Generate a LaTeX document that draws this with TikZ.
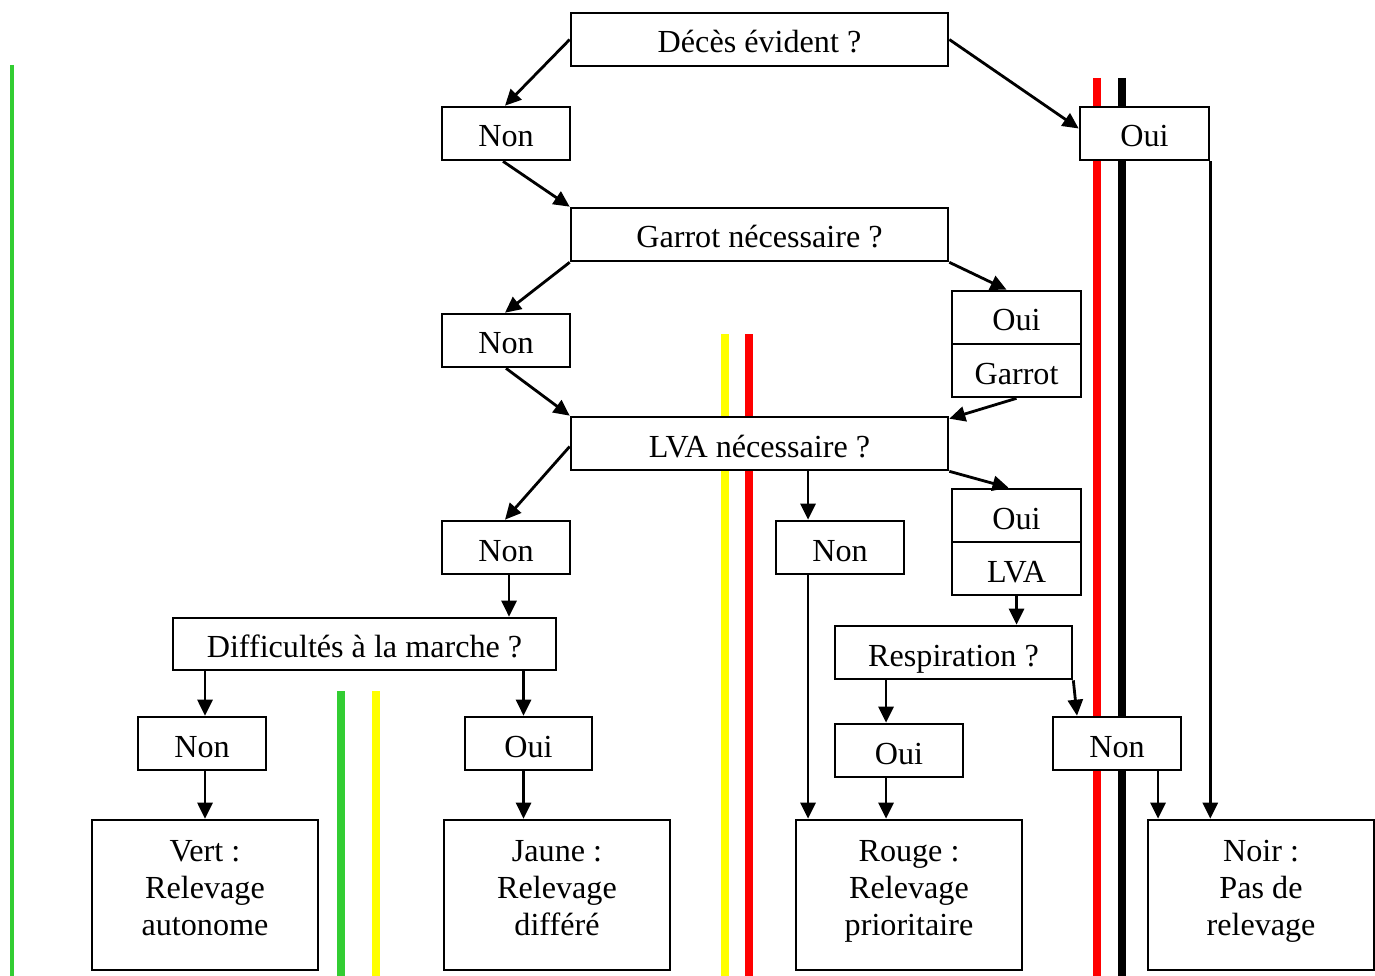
\documentclass[tikz,border=0pt]{standalone}
\usepackage{fontspec}
\setmainfont{Liberation Serif}
\usetikzlibrary{arrows.meta}
\newlength\pxu
\setlength\pxu{0.02cm}
\definecolor{lgreen}{RGB}{50,205,50}
\definecolor{lyellow}{RGB}{255,255,0}
\definecolor{lred}{RGB}{255,0,0}
\begin{document}
\begin{tikzpicture}[x=0.02cm,y=-0.02cm,
  box/.style={draw, line width=1.5pt, fill=white, inner sep=0pt,
    font=\fontsize{18.3}{21}\selectfont, align=center},
  one/.style={text height=28\pxu, text depth=1\pxu},
  sbox/.style={box, one, minimum width=128\pxu, minimum height=53\pxu},
  wbox/.style={box, one, minimum width=377\pxu, minimum height=53\pxu},
  fbox/.style={box, minimum width=226\pxu, minimum height=150\pxu},
  arr/.style={line width=1.6pt, -{Triangle[length=0.32cm,width=0.30cm]}},
  band/.style={line width=0.16cm}]
\useasboundingbox (0,0) rectangle (1375,976);
% colour bands (behind the boxes)
\draw[lgreen, line width=0.08cm] (12,65) -- (12,976);
\draw[band, lred] (1096.5,78) -- (1096.5,976);
\draw[band, black] (1121.5,78) -- (1121.5,976);
\draw[band, lyellow] (725,334) -- (725,976);
\draw[band, lred] (748.5,334) -- (748.5,976);
\draw[band, lgreen] (341,691) -- (341,976);
\draw[band, lyellow] (375.5,691) -- (375.5,976);
% boxes
\node[wbox] (deces) at (759.5,39.5) {Décès évident ?};
\node[sbox] (non1) at (506,133.5) {Non};
\node[sbox, minimum width=129\pxu] (oui1) at (1144.5,133.5) {Oui};
\node[wbox] (garq) at (759.5,234.5) {Garrot nécessaire ?};
\node[sbox] (non2) at (506,340.5) {Non};
\node[sbox, minimum width=129\pxu] (ouiG) at (1016.5,317.5) {Oui};
\node[sbox, minimum width=129\pxu] (garrot) at (1016.5,370.5) {Garrot};
\node[wbox] (lva) at (759.5,443.5) {LVA nécessaire ?};
\node[sbox] (non3) at (506,547.5) {Non};
\node[sbox] (non4) at (840,547.5) {Non};
\node[sbox, minimum width=129\pxu] (ouiL) at (1016.5,515.5) {Oui};
\node[sbox, minimum width=129\pxu] (lvaL) at (1016.5,568.5) {LVA};
\node[box, one, minimum width=383\pxu, minimum height=52\pxu] (diff) at (364.5,644) {Difficultés à la marche ?};
\node[box, one, minimum width=237\pxu, minimum height=53\pxu] (resp) at (953.5,652.5) {Respiration ?};
\node[sbox] (non5) at (202,743.5) {Non};
\node[sbox, minimum width=127\pxu] (oui5) at (528.5,743.5) {Oui};
\node[sbox] (oui6) at (899,750.5) {Oui};
\node[sbox] (non6) at (1117,743.5) {Non};
\node[fbox] (vert) at (205,895) {Vert :\\Relevage\\autonome\\[-23\pxu]};
\node[fbox] (jaune) at (557,895) {Jaune :\\Relevage\\différé\\[-23\pxu]};
\node[fbox] (rouge) at (909,895) {Rouge :\\Relevage\\prioritaire\\[-23\pxu]};
\node[fbox] (noir) at (1261,895) {Noir :\\Pas de\\relevage\\[-23\pxu]};
% connectors
\draw[arr] (deces.west) -- ([xshift=-1\pxu]non1.north);
\draw[arr] (deces.east) -- ([yshift=5\pxu]oui1.west);
\draw[arr] ([xshift=-3\pxu]non1.south) -- (garq.north west);
\draw[arr] (garq.south west) -- ([xshift=-1\pxu]non2.north);
\draw[arr] (garq.south east) -- ([xshift=-10\pxu]ouiG.north);
\draw[arr] (non2.south) -- (lva.north west);
\draw[arr] (garrot.south) -- ([yshift=-3\pxu]lva.north east);
\draw[arr] ([yshift=-3\pxu]lva.west) -- ([xshift=-1\pxu]non3.north);
\draw[arr] ([xshift=-32\pxu]non4.north |- lva.south) -- ([xshift=-32\pxu]non4.north);
\draw[arr] (lva.south east) -- ([xshift=-8\pxu]ouiL.north);
\draw[arr] (lvaL.south) -- (lvaL.south |- resp.north);
\draw[arr] ([xshift=3\pxu]non3.south) -- ([xshift=3\pxu]non3.south |- diff.north);
\draw[arr] (vert.north |- diff.south) -- (vert.north |- non5.north);
\draw[arr] (vert.north |- non5.south) -- (vert.north);
\draw[arr] ([xshift=-5\pxu]oui5.north |- diff.south) -- ([xshift=-5\pxu]oui5.north);
\draw[arr] ([xshift=-5\pxu]oui5.south) -- ([xshift=-5\pxu]oui5.south |- jaune.north);
\draw[arr] ([xshift=-32\pxu]non4.south) -- ([xshift=-32\pxu]non4.south |- rouge.north);
\draw[arr] ([xshift=-13\pxu]oui6.north |- resp.south) -- ([xshift=-13\pxu]oui6.north);
\draw[arr] ([xshift=-13\pxu]oui6.south) -- ([xshift=-13\pxu]oui6.south |- rouge.north);
\draw[arr] (resp.south east) -- ([xshift=-40\pxu]non6.north);
\draw[arr] ([xshift=41\pxu]non6.south) -- ([xshift=41\pxu]non6.south |- noir.north);
\draw[arr] (oui1.south east) -- (oui1.south east |- noir.north);
\end{tikzpicture}
\end{document}
